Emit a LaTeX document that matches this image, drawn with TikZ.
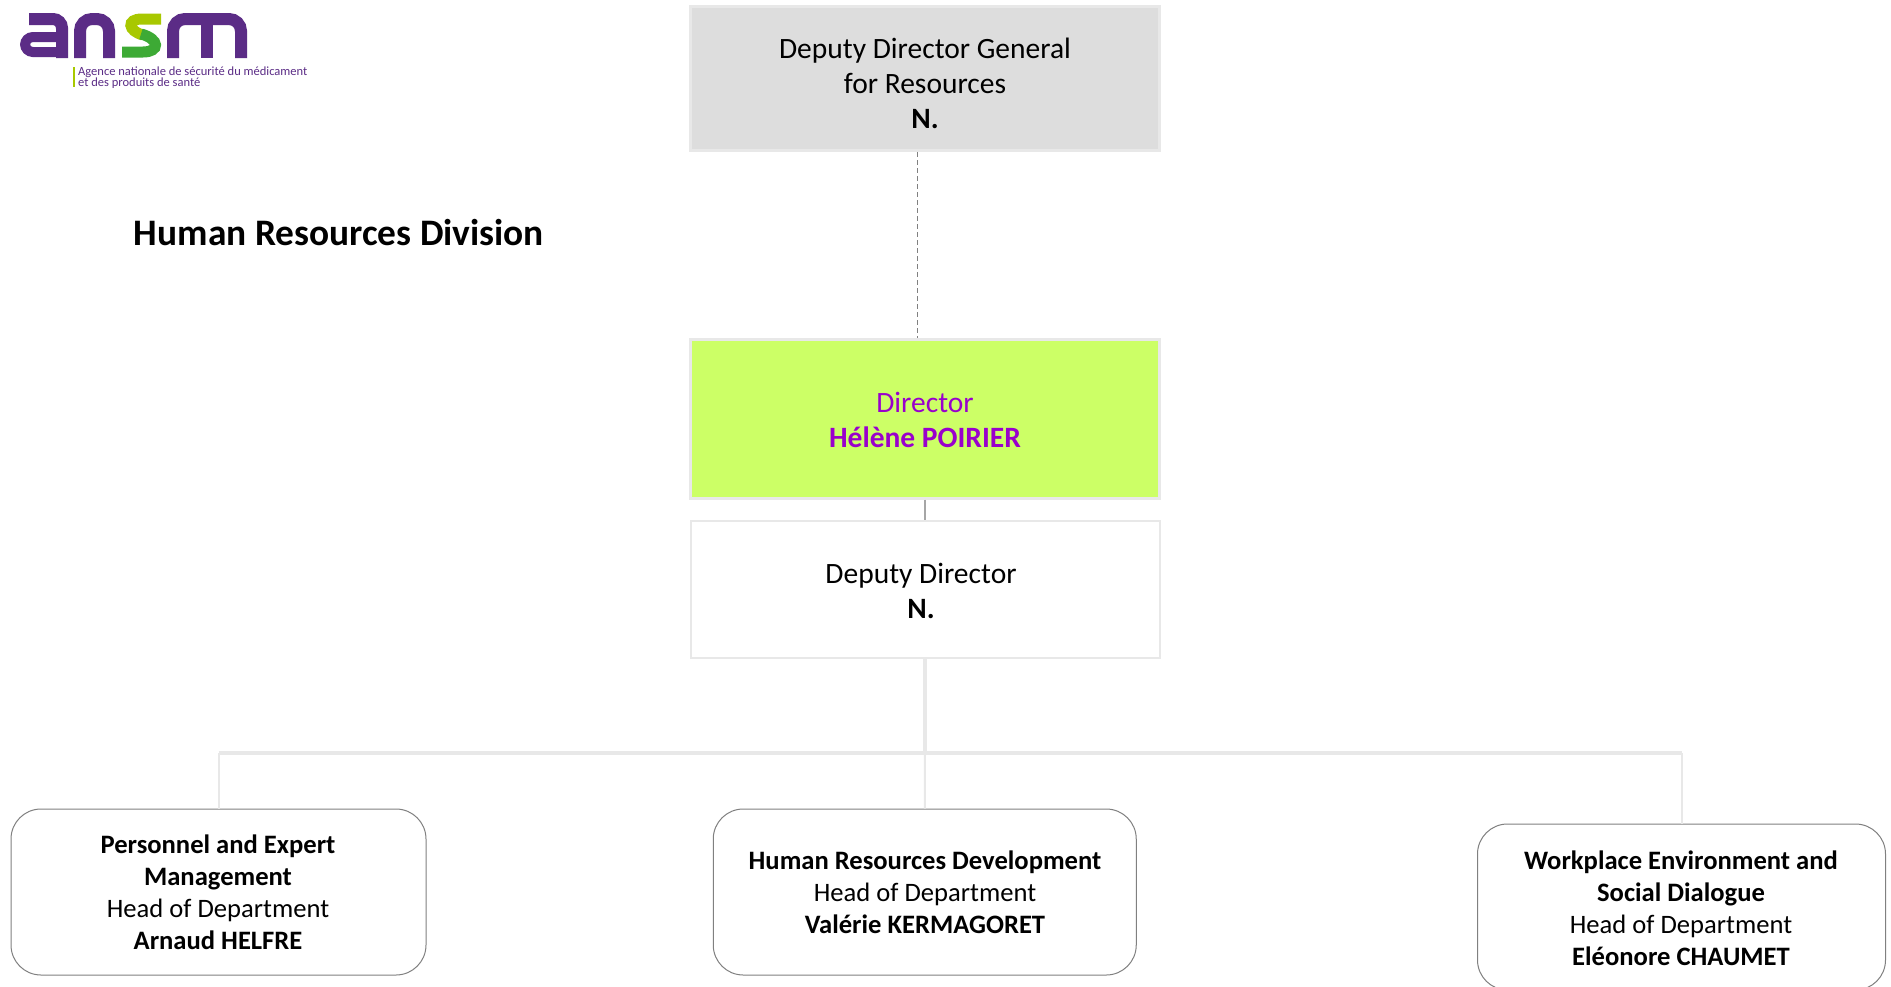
\documentclass[tikz,border=0pt]{standalone}
\usepackage{fontspec}
\setmainfont{Carlito}
\definecolor{logopurple}{HTML}{5B2C86}
\definecolor{logolime}{HTML}{A8C800}
\definecolor{logogreen}{HTML}{3DAA35}
\definecolor{dirpurple}{HTML}{9900CC}
\definecolor{dirlime}{HTML}{CCFF66}
\definecolor{topgrey}{HTML}{DDDDDD}
\definecolor{lightline}{HTML}{E8E8E8}
\tikzset{
  sqbox/.style={draw=lightline,line width=3pt,inner sep=0pt,minimum width=469pt,fill=white},
  deptbox/.style={draw=black!50,line width=1pt,rounded corners=30pt,inner sep=0pt,fill=white,minimum height=166pt},
  bigtext/.style={align=center,inner sep=0pt,font=\fontsize{29.5}{35}\selectfont},
  depttext/.style={align=center,inner sep=0pt,font=\fontsize{26.6}{32}\selectfont},
  logotext/.style={anchor=west,inner sep=0pt,text=logopurple,font=\fontsize{12.5}{13}\selectfont},
  logostroke/.style={line width=12pt,logopurple,line cap=butt},
  branch/.style={lightline,line width=2pt},
  trunk/.style={lightline,line width=3.5pt}
}
\begin{document}
\begin{tikzpicture}[x=1pt,y=-1pt]
\useasboundingbox (0,0) rectangle (1891,986);
\fill[white] (0,0) rectangle (1891,986);

% logo
\draw[logostroke,rounded corners=9pt] (29,19) -- (62,19) -- (62,58);
\draw[logostroke,line width=10pt,rounded corners=8pt] (62,37) -- (25,37) -- (25,52) -- (62,52);
\draw[logostroke,rounded corners=12pt] (80,58) -- (80,19) -- (109,19) -- (109,58);
\draw[logostroke,rounded corners=12pt] (173,58) -- (173,19) -- (241,19) -- (241,58);
\draw[logostroke] (207,25) -- (207,58);
\draw[logolime,line width=11pt] (161,19) -- (142,19) .. controls (126,19) and (128,31) .. (143,35);
\draw[logogreen,line width=11pt] (141,34) .. controls (160,39) and (160,52) .. (143,52) -- (122,52);
\fill[logolime] (73,67) rectangle (74.5,87);
\node[logotext] (logoa) at (78,72) {Agence nationale de sécurité du médicament};
\node[logotext] (logob) at (78,83) {et des produits de santé};

% title
\node[inner sep=0pt,font=\fontsize{37.4}{44}\selectfont\bfseries] (title) at (339,233) {Human Resources Division};

% boxes
\node[sqbox,fill=topgrey,minimum height=144pt] (top) at (925,78.5) {};
\node[sqbox,fill=dirlime,minimum height=159pt] (dir) at (925,418.5) {};
\node[sqbox,line width=2pt,minimum height=137pt] (dep) at (925,589.5) {};
\node[deptbox,minimum width=415pt] (left) at (218.5,892) {};
\node[deptbox,minimum width=423pt] (mid) at (924.75,892) {};
\node[deptbox,minimum width=408pt] (right) at (1681.5,907) {};

% connectors
\coordinate (junction) at (925,753);
\draw[black!50,line width=1pt,dash pattern=on 5pt off 3pt] ([xshift=-8pt]top.south) -- ([xshift=-8pt]dir.north);
\draw[black!35,line width=2pt] (dir.south) -- (dep.north);
\draw[trunk] (dep.south) -- (junction);
\draw[trunk] (junction -| left.north) -- (junction -| right.north);
\draw[branch] (junction -| left.north) -- (left.north);
\draw[branch] (junction) -- (mid.north);
\draw[branch] (junction -| right.north) -- (right.north);

% texts
\node[bigtext] (toptext) at (925,83) {Deputy Director General\\for Resources\\\textbf{N.}};
\node[bigtext,text=dirpurple] (dirtext) at (925,420) {Director\\\textbf{Hélène POIRIER}};
\node[bigtext] (deptext) at (921,591) {Deputy Director\\\textbf{N.}};
\node[depttext] (lefttext) at (218,892) {\textbf{Personnel and Expert}\\\textbf{Management}\\Head of Department\\\textbf{Arnaud HELFRE}};
\node[depttext] (midtext) at (925,892) {\textbf{Human Resources Development}\\Head of Department\\\textbf{Valérie KERMAGORET}};
\node[depttext] (righttext) at (1681,908) {\textbf{Workplace Environment and}\\\textbf{Social Dialogue}\\Head of Department\\\textbf{Eléonore CHAUMET}};
\end{tikzpicture}
\end{document}
